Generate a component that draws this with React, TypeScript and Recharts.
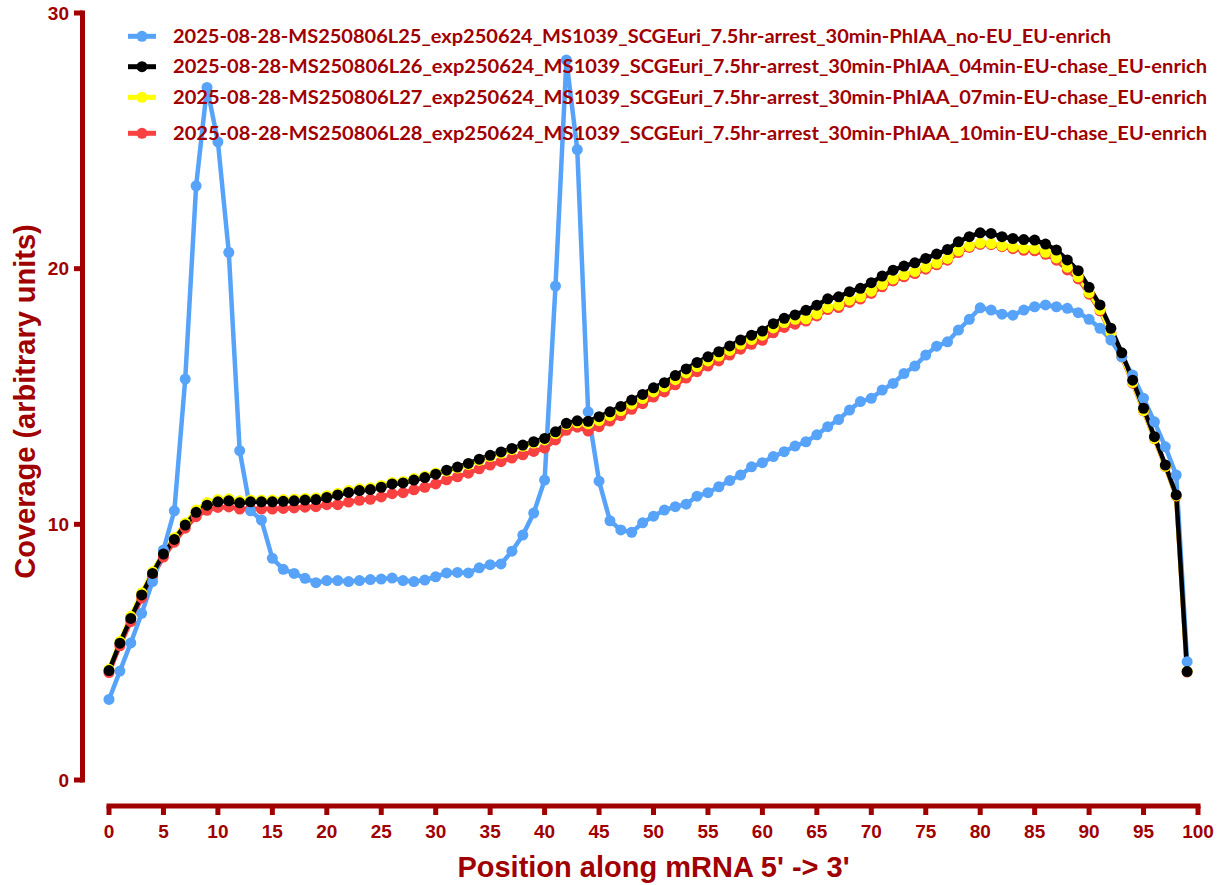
import React from 'react';
import { LineChart, Line, XAxis, YAxis, Legend, ReferenceLine } from 'recharts';

// ---------- data ----------
const positions = [
  0, 1, 2, 3, 4, 5, 6, 7, 8, 9, 10, 11, 12, 13, 14, 15, 16, 17, 18, 19,
  20, 21, 22, 23, 24, 25, 26, 27, 28, 29, 30, 31, 32, 33, 34, 35, 36, 37, 38, 39,
  40, 41, 42, 43, 44, 45, 46, 47, 48, 49, 50, 51, 52, 53, 54, 55, 56, 57, 58, 59,
  60, 61, 62, 63, 64, 65, 66, 67, 68, 69, 70, 71, 72, 73, 74, 75, 76, 77, 78, 79,
  80, 81, 82, 83, 84, 85, 86, 87, 88, 89, 90, 91, 92, 93, 94, 95, 96, 97, 98, 99,
];

// L25 no-EU (blue)
const l25 = [
  3.15, 4.26, 5.36, 6.52, 7.76, 9.0, 10.53, 15.68, 23.24, 27.09,
  24.96, 20.64, 12.88, 10.53, 10.17, 8.67, 8.24, 8.08, 7.89, 7.72,
  7.8, 7.8, 7.76, 7.8, 7.84, 7.86, 7.9, 7.8, 7.76, 7.82,
  7.95, 8.1, 8.12, 8.1, 8.3, 8.42, 8.45, 8.95, 9.58, 10.44,
  11.73, 19.32, 28.16, 24.66, 14.4, 11.69, 10.14, 9.78, 9.69, 10.06,
  10.32, 10.56, 10.69, 10.79, 11.1, 11.24, 11.47, 11.71, 11.93, 12.25,
  12.41, 12.65, 12.84, 13.06, 13.23, 13.5, 13.82, 14.1, 14.47, 14.8,
  14.93, 15.25, 15.51, 15.9, 16.19, 16.62, 16.97, 17.14, 17.6, 18.02,
  18.47, 18.38, 18.22, 18.18, 18.38, 18.51, 18.58, 18.51, 18.45, 18.28,
  18.02, 17.67, 17.21, 16.55, 15.84, 14.93, 14.01, 13.03, 11.93, 4.63,
];

// L26 04min chase (black)
const l26 = [
  4.28, 5.35, 6.32, 7.24, 8.08, 8.84, 9.41, 9.97, 10.47, 10.75,
  10.88, 10.92, 10.84, 10.88, 10.88, 10.88, 10.9, 10.92, 10.95, 10.97,
  11.05, 11.15, 11.25, 11.32, 11.36, 11.45, 11.58, 11.62, 11.73, 11.83,
  11.96, 12.12, 12.24, 12.38, 12.55, 12.7, 12.83, 12.97, 13.1, 13.23,
  13.36, 13.62, 13.95, 14.05, 14.03, 14.21, 14.4, 14.61, 14.86, 15.08,
  15.34, 15.54, 15.82, 16.08, 16.33, 16.55, 16.75, 16.98, 17.21, 17.4,
  17.56, 17.85, 18.06, 18.19, 18.37, 18.57, 18.82, 18.9, 19.1, 19.23,
  19.45, 19.71, 19.94, 20.1, 20.23, 20.4, 20.57, 20.75, 21.05, 21.25,
  21.4, 21.38, 21.25, 21.18, 21.14, 21.12, 20.96, 20.73, 20.34, 19.92,
  19.27, 18.58, 17.67, 16.71, 15.64, 14.54, 13.43, 12.32, 11.15, 4.24,
];

// L27 07min chase (yellow)
const l27 = [
  4.33, 5.42, 6.4, 7.32, 8.15, 8.9, 9.48, 10.05, 10.56, 10.85,
  10.97, 11.0, 10.92, 10.95, 10.95, 10.95, 10.97, 10.99, 11.02, 11.04,
  11.12, 11.22, 11.32, 11.39, 11.43, 11.52, 11.64, 11.68, 11.79, 11.88,
  12.01, 12.08, 12.2, 12.34, 12.5, 12.65, 12.78, 12.92, 13.05, 13.18,
  13.3, 13.55, 13.9, 13.97, 13.93, 14.06, 14.25, 14.45, 14.7, 14.92,
  15.18, 15.38, 15.66, 15.92, 16.17, 16.39, 16.58, 16.8, 17.04, 17.23,
  17.4, 17.68, 17.89, 18.02, 18.04, 18.23, 18.48, 18.57, 18.77, 18.9,
  19.12, 19.38, 19.6, 19.76, 19.89, 20.06, 20.22, 20.4, 20.7, 20.88,
  21.0, 20.98, 20.9, 20.85, 20.8, 20.78, 20.64, 20.42, 20.06, 19.68,
  19.06, 18.4, 17.5, 16.58, 15.55, 14.45, 13.36, 12.27, 11.12, 4.25,
];

// L28 10min chase (red)
const l28 = [
  4.2, 5.25, 6.2, 7.12, 7.96, 8.72, 9.3, 9.85, 10.3, 10.55,
  10.66, 10.68, 10.6, 10.6, 10.6, 10.6, 10.62, 10.64, 10.67, 10.69,
  10.77, 10.77, 10.87, 10.94, 10.98, 11.07, 11.2, 11.24, 11.35, 11.45,
  11.58, 11.74, 11.86, 12.0, 12.17, 12.32, 12.45, 12.59, 12.72, 12.85,
  12.98, 13.3, 13.68, 13.8, 13.65, 13.82, 14.04, 14.25, 14.5, 14.72,
  14.98, 15.18, 15.46, 15.72, 15.97, 16.19, 16.39, 16.62, 16.85, 17.04,
  17.2, 17.49, 17.7, 17.83, 17.95, 18.15, 18.4, 18.48, 18.68, 18.81,
  19.03, 19.29, 19.52, 19.68, 19.81, 19.98, 20.15, 20.33, 20.63, 20.83,
  20.95, 20.94, 20.86, 20.78, 20.72, 20.7, 20.56, 20.33, 19.95, 19.6,
  19.0, 18.35, 17.48, 16.55, 15.52, 14.44, 13.35, 12.26, 11.1, 4.22,
];

const xTicks = [0, 5, 10, 15, 20, 25, 30, 35, 40, 45, 50, 55, 60, 65, 70, 75, 80, 85, 90, 95, 100];
const yTicks = [0, 10, 20, 30];

const seriesKeys = ['l25', 'l26', 'l27', 'l28'];
const seriesLabels = [
  '2025-08-28-MS250806L25_exp250624_MS1039_SCGEuri_7.5hr-arrest_30min-PhIAA_no-EU_EU-enrich',
  '2025-08-28-MS250806L26_exp250624_MS1039_SCGEuri_7.5hr-arrest_30min-PhIAA_04min-EU-chase_EU-enrich',
  '2025-08-28-MS250806L27_exp250624_MS1039_SCGEuri_7.5hr-arrest_30min-PhIAA_07min-EU-chase_EU-enrich',
  '2025-08-28-MS250806L28_exp250624_MS1039_SCGEuri_7.5hr-arrest_30min-PhIAA_10min-EU-chase_EU-enrich',
];
const seriesColors = ['#57A3FA', '#000000', '#FFFF00', '#FA4141'];
const drawOrder = [3, 2, 0, 1];

const xTitle = "Position along mRNA 5' -> 3'";
const yTitle = 'Coverage (arbitrary units)';

const data = positions.map((p, i) => ({ pos: p, l25: l25[i], l26: l26[i], l27: l27[i], l28: l28[i] }));

// ---------- styles ----------
const W = 1217;
const H = 885;
const AXIS = '#A00000';
const AXIS_FONT = '"Liberation Sans", Arial, sans-serif';
const LEGEND_FONT = 'Lato, "Noto Sans", sans-serif';
const PLOT = { left: 109, right: 1198, top: 13, bottom: 780 };
const PX_PER_X = (PLOT.right - PLOT.left) / 100;
const PX_PER_Y = (PLOT.bottom - PLOT.top) / 30;
const yAxisLineX = -26.5 / PX_PER_X;
const xAxisLineY = -26 / PX_PER_Y;
const legendRowsY = [36.3, 66.7, 97.3, 133.3];

const XTick = (props: any) => {
  const { x, y, payload } = props;
  return (
    <g>
      <line x1={x} x2={x} y1={y + 26} y2={y + 35} stroke={AXIS} strokeWidth={5} />
      <text x={x} y={y + 57.5} textAnchor="middle" fill={AXIS} fontSize={19} fontWeight="bold" fontFamily={AXIS_FONT}>
        {payload.value}
      </text>
    </g>
  );
};

const YTick = (props: any) => {
  const { x, y, payload } = props;
  return (
    <g>
      <line x1={x - 35} x2={x - 26.5} y1={y} y2={y} stroke={AXIS} strokeWidth={5} />
      <text x={x - 40} y={y + 6.7} textAnchor="end" fill={AXIS} fontSize={19} fontWeight="bold" fontFamily={AXIS_FONT}>
        {payload.value}
      </text>
    </g>
  );
};

const XTitle = (props: any) => {
  const vb = props.viewBox || { x: PLOT.left, y: PLOT.bottom, width: PLOT.right - PLOT.left, height: H - PLOT.bottom };
  return (
    <text x={vb.x + vb.width / 2} y={vb.y + 97} textAnchor="middle" fill={AXIS} fontSize={29} fontWeight="bold" fontFamily={AXIS_FONT}>
      {xTitle}
    </text>
  );
};

const YTitle = (props: any) => {
  const vb = props.viewBox || { x: 0, y: PLOT.top, width: PLOT.left, height: PLOT.bottom - PLOT.top };
  const cx = vb.x + 35;
  const cy = vb.y + vb.height / 2 + 5;
  return (
    <text x={cx} y={cy} transform={`rotate(-90 ${cx} ${cy})`} textAnchor="middle" fill={AXIS} fontSize={29} fontWeight="bold" fontFamily={AXIS_FONT}>
      {yTitle}
    </text>
  );
};

const renderLegend = () => (
  <svg width={W} height={150} style={{ display: 'block', overflow: 'visible' }}>
    {seriesLabels.map((label, i) => {
      const cy = legendRowsY[i];
      return (
        <g key={label}>
          <line x1={128} x2={156} y1={cy} y2={cy} stroke={seriesColors[i]} strokeWidth={5} />
          <circle cx={142} cy={cy} r={5.5} fill={seriesColors[i]} />
          <text
            x={173}
            y={cy + 6.5}
            fill={AXIS}
            fontSize={19}
            fontWeight="bold"
            fontFamily={LEGEND_FONT}
            textLength={label.length * 10.66}
            lengthAdjust="spacingAndGlyphs"
          >
            {label}
          </text>
        </g>
      );
    })}
  </svg>
);

export default function App() {
  return (
    <div style={{ position: 'absolute', left: 0, top: 0, width: W, height: H, background: '#ffffff' }}>
      <LineChart width={W} height={H} data={data} margin={{ top: PLOT.top, right: W - PLOT.right, bottom: 0, left: 0 }}>
        <XAxis
          dataKey="pos"
          type="number"
          domain={[0, 100]}
          ticks={xTicks}
          interval={0}
          height={H - PLOT.bottom}
          axisLine={false}
          tickLine={false}
          tickSize={0}
          tickMargin={0}
          tick={<XTick />}
          label={{ content: (p: any) => <XTitle {...p} /> }}
        />
        <YAxis
          type="number"
          domain={[0, 30]}
          ticks={yTicks}
          interval={0}
          width={PLOT.left}
          axisLine={false}
          tickLine={false}
          tickSize={0}
          tickMargin={0}
          tick={<YTick />}
          label={{ content: (p: any) => <YTitle {...p} /> }}
        />
        <ReferenceLine
          segment={[{ x: yAxisLineX, y: 0 }, { x: yAxisLineX, y: 30 }]}
          stroke={AXIS}
          strokeWidth={5}
          strokeLinecap="square"
          ifOverflow="visible"
        />
        <ReferenceLine
          segment={[{ x: 0, y: xAxisLineY }, { x: 100, y: xAxisLineY }]}
          stroke={AXIS}
          strokeWidth={5}
          strokeLinecap="square"
          ifOverflow="visible"
        />
        {drawOrder.map((i) => (
          <Line
            key={seriesKeys[i]}
            type="linear"
            dataKey={seriesKeys[i]}
            name={seriesLabels[i]}
            stroke={seriesColors[i]}
            strokeWidth={4.5}
            dot={{ r: 5.5, fill: seriesColors[i], stroke: 'none' }}
            activeDot={false}
            isAnimationActive={false}
          />
        ))}
        <Legend
          layout="vertical"
          align="center"
          verticalAlign="middle"
          wrapperStyle={{ left: 0, top: 0, width: W, height: 150 }}
          content={renderLegend}
        />
      </LineChart>
    </div>
  );
}
